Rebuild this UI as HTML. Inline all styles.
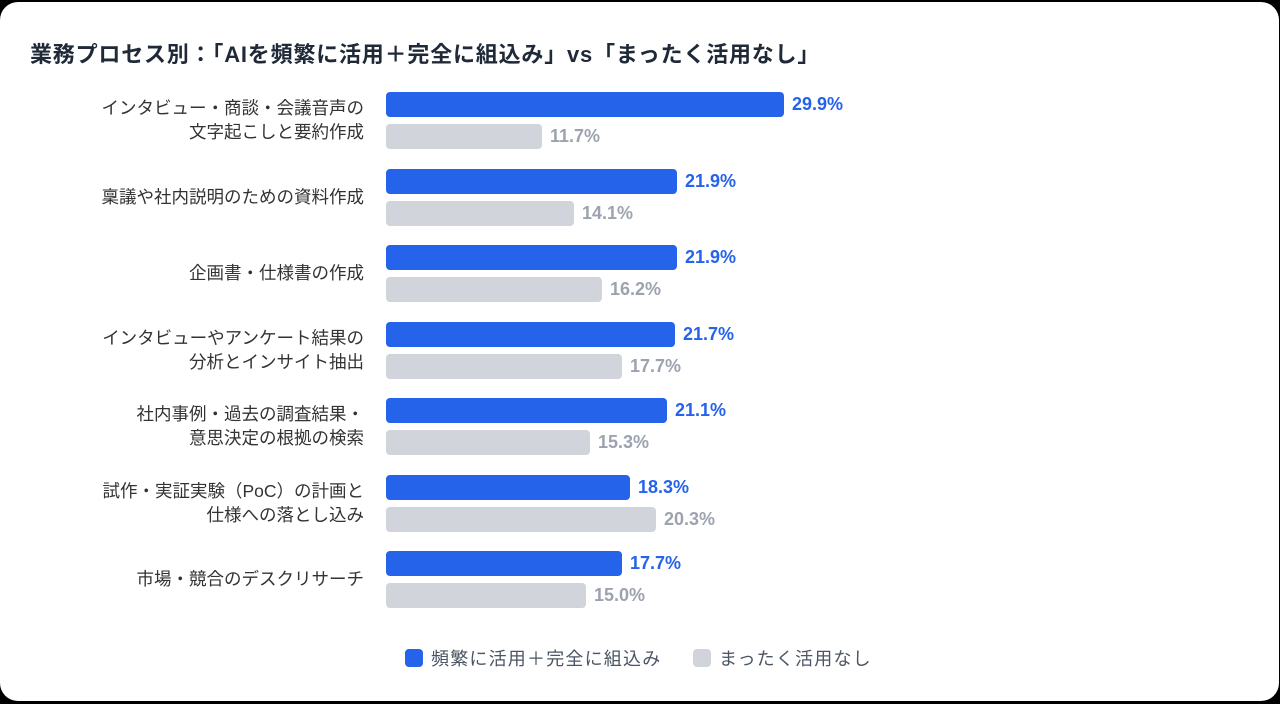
<!DOCTYPE html>
<html><head><meta charset="utf-8"><style>
body{margin:0;width:1280px;height:704px;background:#000;position:relative;overflow:hidden;font-family:"Liberation Sans","Noto Sans CJK JP",sans-serif;}
.card{position:absolute;left:0;top:2px;width:1279px;height:699px;background:#fff;border-radius:18px;}
.t{position:absolute;left:30px;top:37px;font-size:22px;letter-spacing:0.8px;font-weight:bold;color:#1f2937;white-space:nowrap;}
.l{position:absolute;right:916px;text-align:right;font-size:17.5px;line-height:24px;color:#333;white-space:nowrap;}
.b{position:absolute;left:386px;height:25px;border-radius:4px;}
.bl{background:#2563eb}.gr{background:#d1d5db}
.v{position:absolute;font-size:18px;font-weight:bold;line-height:25px;white-space:nowrap}
.vb{color:#2563eb}.vg{color:#9ca3af}
.lg{position:absolute;top:649px;width:18px;height:18px;border-radius:4px}
.lt{position:absolute;top:647px;font-size:18px;letter-spacing:1.2px;line-height:24px;color:#4b5563;white-space:nowrap}
</style></head><body><div class="card"></div>
<div class="t">業務プロセス別：「AIを頻繁に活用＋完全に組込み」vs「まったく活用なし」</div>

<div class="l" style="top:96px">インタビュー・商談・会議音声の<br>文字起こしと要約作成</div>
<div class="b bl" style="top:92px;width:398px"></div><div class="v vb" style="top:92px;left:792px">29.9%</div>
<div class="b gr" style="top:124px;width:156px"></div><div class="v vg" style="top:124px;left:550px">11.7%</div>

<div class="l" style="top:185px">稟議や社内説明のための資料作成</div>
<div class="b bl" style="top:168.5px;width:291px"></div><div class="v vb" style="top:168.5px;left:685px">21.9%</div>
<div class="b gr" style="top:200.5px;width:188px"></div><div class="v vg" style="top:200.5px;left:582px">14.1%</div>

<div class="l" style="top:261px">企画書・仕様書の作成</div>
<div class="b bl" style="top:245px;width:291px"></div><div class="v vb" style="top:245px;left:685px">21.9%</div>
<div class="b gr" style="top:277px;width:216px"></div><div class="v vg" style="top:277px;left:610px">16.2%</div>

<div class="l" style="top:325.5px">インタビューやアンケート結果の<br>分析とインサイト抽出</div>
<div class="b bl" style="top:321.5px;width:289px"></div><div class="v vb" style="top:321.5px;left:683px">21.7%</div>
<div class="b gr" style="top:353.5px;width:236px"></div><div class="v vg" style="top:353.5px;left:630px">17.7%</div>

<div class="l" style="top:402px">社内事例・過去の調査結果・<br>意思決定の根拠の検索</div>
<div class="b bl" style="top:398px;width:281px"></div><div class="v vb" style="top:398px;left:675px">21.1%</div>
<div class="b gr" style="top:430px;width:204px"></div><div class="v vg" style="top:430px;left:598px">15.3%</div>

<div class="l" style="top:478.5px">試作・実証実験（PoC）の計画と<br>仕様への落とし込み</div>
<div class="b bl" style="top:474.5px;width:244px"></div><div class="v vb" style="top:474.5px;left:638px">18.3%</div>
<div class="b gr" style="top:506.5px;width:270px"></div><div class="v vg" style="top:506.5px;left:664px">20.3%</div>

<div class="l" style="top:567px">市場・競合のデスクリサーチ</div>
<div class="b bl" style="top:551px;width:236px"></div><div class="v vb" style="top:551px;left:630px">17.7%</div>
<div class="b gr" style="top:583px;width:200px"></div><div class="v vg" style="top:583px;left:594px">15.0%</div>

<div class="lg" style="left:405px;background:#2563eb"></div><div class="lt" style="left:431px">頻繁に活用＋完全に組込み</div>
<div class="lg" style="left:693px;background:#d1d5db"></div><div class="lt" style="left:719px">まったく活用なし</div>
</body></html>
